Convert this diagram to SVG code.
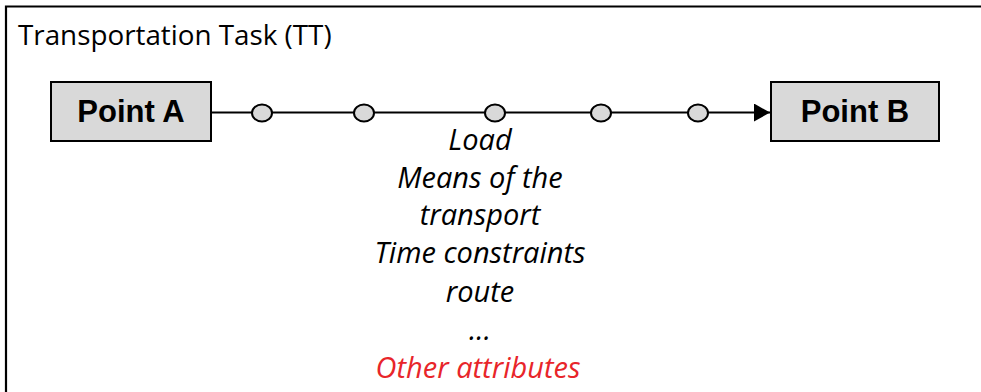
<svg xmlns="http://www.w3.org/2000/svg" width="981" height="392" viewBox="0 0 981 392">
  <style>
    .frame { fill: none; stroke: #000; stroke-width: 2.2; }
    .box { fill: #d9d9d9; stroke: #000; stroke-width: 2; }
    .label { font-family: "Liberation Sans", Arial, sans-serif; font-weight: bold; font-size: 31px; fill: #000; text-anchor: middle; }
    .title { font-family: "Open Sans", "Noto Sans", sans-serif; font-size: 27.8px; fill: #000; }
    .attr { font-family: "Open Sans", "Noto Sans", sans-serif; font-style: italic; font-size: 29px; fill: #000; text-anchor: middle; }
    .attr.other { fill: #e8252a; }
    .route { stroke: #000; stroke-width: 2; fill: none; }
    .stop { fill: #d9d9d9; stroke: #000; stroke-width: 2; }
  </style>
  <defs>
    <marker id="arrow" viewBox="0 0 16 18" refX="16" refY="9" markerWidth="16" markerHeight="18" markerUnits="userSpaceOnUse" orient="auto">
      <path d="M0,0 L16,9 L0,18 Z" fill="#000"/>
    </marker>
  </defs>

  <rect width="981" height="392" fill="#fff"/>

  <!-- open frame: top and left edges only -->
  <g id="frame">
    <path class="frame" d="M6,392 V6.5 H981"/>
    <text class="title" x="18" y="45">Transportation Task (TT)</text>
  </g>

  <g id="point-a">
    <rect class="box" x="51" y="82" width="160" height="59"/>
    <text class="label" x="131" y="122">Point A</text>
  </g>

  <g id="point-b">
    <rect class="box" x="771" y="82" width="168" height="59"/>
    <text class="label" x="855" y="122">Point B</text>
  </g>

  <g id="connectors">
    <line class="route" x1="211" y1="112.5" x2="770" y2="112.5" marker-end="url(#arrow)"/>
    <ellipse class="stop" cx="262" cy="113" rx="10" ry="8.5"/>
    <ellipse class="stop" cx="364" cy="113" rx="10" ry="8.5"/>
    <ellipse class="stop" cx="495" cy="113" rx="10" ry="8.5"/>
    <ellipse class="stop" cx="601" cy="113" rx="10" ry="8.5"/>
    <ellipse class="stop" cx="698" cy="113" rx="10" ry="8.5"/>
  </g>

  <g id="attributes">
    <text class="attr" x="480" y="150">Load</text>
    <text class="attr" x="480" y="188">Means of the</text>
    <text class="attr" x="480" y="225">transport</text>
    <text class="attr" x="480" y="263">Time constraints</text>
    <text class="attr" x="480" y="302">route</text>
    <text class="attr" x="480" y="340">...</text>
    <text class="attr other" x="478" y="378">Other attributes</text>
  </g>
</svg>
